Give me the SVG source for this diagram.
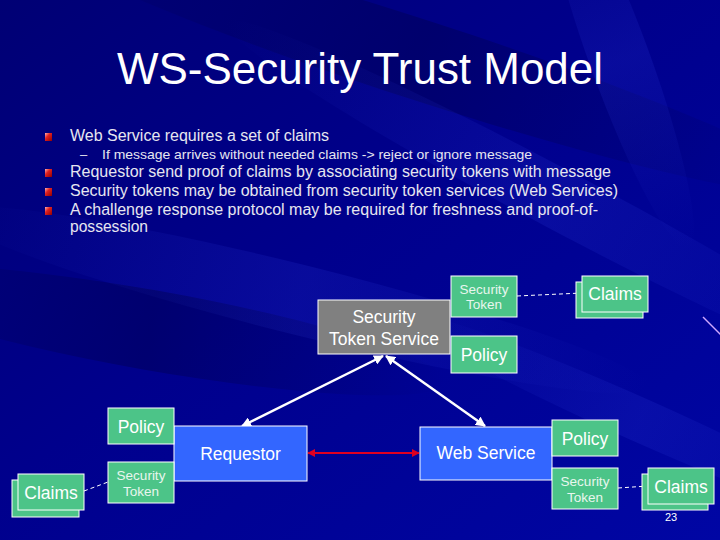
<svg xmlns="http://www.w3.org/2000/svg" width="720" height="540" viewBox="0 0 720 540">
<defs>
<linearGradient id="bg" x1="0" y1="0" x2="1" y2="1">
<stop offset="0" stop-color="#000074"/>
<stop offset="0.45" stop-color="#00008C"/>
<stop offset="1" stop-color="#0006A4"/>
</linearGradient>
<linearGradient id="streak" x1="0" y1="0" x2="1" y2="0">
<stop offset="0" stop-color="#2A38D8" stop-opacity="0"/>
<stop offset="0.5" stop-color="#2A38D8" stop-opacity="0.2"/>
<stop offset="1" stop-color="#2A38D8" stop-opacity="0"/>
</linearGradient>
<linearGradient id="dark" x1="0" y1="0" x2="1" y2="0">
<stop offset="0" stop-color="#000040" stop-opacity="0"/>
<stop offset="0.5" stop-color="#000040" stop-opacity="0.35"/>
<stop offset="1" stop-color="#000040" stop-opacity="0"/>
</linearGradient>
<linearGradient id="bul" x1="0" y1="0" x2="1" y2="1">
<stop offset="0" stop-color="#FFB0B0"/>
<stop offset="0.4" stop-color="#E02020"/>
<stop offset="1" stop-color="#900000"/>
</linearGradient>
<marker id="wa" viewBox="0 0 10 10" refX="9" refY="5" markerWidth="4" markerHeight="4" orient="auto-start-reverse" markerUnits="strokeWidth">
<path d="M0,0 L10,5 L0,10 z" fill="#FFFFFF"/>
</marker>
<marker id="ra" viewBox="0 0 10 10" refX="9" refY="5" markerWidth="4" markerHeight="4" orient="auto-start-reverse" markerUnits="strokeWidth">
<path d="M0,0 L10,5 L0,10 z" fill="#E00020"/>
</marker>
</defs>
<style>
.t{font-family:"Liberation Sans",Arial,sans-serif;fill:#FFFFFF}
.b{font-family:"Liberation Sans",Arial,sans-serif;fill:#E6E6F0;font-size:16px}
.s{font-family:"Liberation Sans",Arial,sans-serif;fill:#E6E6F0;font-size:13px}
.g{fill:#4CC488;stroke:#FFFFFF;stroke-width:1}
.bl{fill:#3366FF;stroke:#FFFFFF;stroke-width:1}
.gr{fill:#808080;stroke:#FFFFFF;stroke-width:1}
.lb{font-family:"Liberation Sans",Arial,sans-serif;fill:#FFFFFF;font-size:17.5px;text-anchor:middle}
.sm{font-family:"Liberation Sans",Arial,sans-serif;fill:#E8F6EE;font-size:13.5px;text-anchor:middle}
.dash{stroke:#FFFFFF;stroke-width:1;stroke-dasharray:4 3;fill:none}
.wl{stroke:#FFFFFF;stroke-width:2.5;fill:none;marker-start:url(#wa);marker-end:url(#wa)}
.rl{stroke:#E00020;stroke-width:2;fill:none;marker-start:url(#ra);marker-end:url(#ra)}
</style>
<rect width="720" height="540" fill="url(#bg)"/>
<g id="background-streaks">
<ellipse cx="420" cy="60" rx="420" ry="40" fill="url(#dark)" transform="rotate(18 420 60)"/>
<ellipse cx="560" cy="200" rx="380" ry="30" fill="url(#streak)" transform="rotate(28 560 200)"/>
<ellipse cx="300" cy="300" rx="360" ry="35" fill="url(#streak)" transform="rotate(14 300 300)"/>
<ellipse cx="150" cy="330" rx="300" ry="40" fill="url(#dark)" transform="rotate(10 150 330)"/>
<ellipse cx="640" cy="420" rx="260" ry="22" fill="url(#streak)" transform="rotate(24 640 420)"/>
<ellipse cx="620" cy="60" rx="200" ry="30" fill="url(#streak)" transform="rotate(70 620 60)"/>
</g>
<text class="t" x="360" y="84" font-size="44" text-anchor="middle" textLength="486" lengthAdjust="spacingAndGlyphs">WS-Security Trust Model</text>
<g id="bullets">
<rect x="45" y="133" width="7" height="8" fill="url(#bul)"/>
<rect x="45" y="169" width="7" height="8" fill="url(#bul)"/>
<rect x="45" y="188" width="7" height="8" fill="url(#bul)"/>
<rect x="45" y="207" width="7" height="8" fill="url(#bul)"/>
<text class="b" x="70" y="141" textLength="259" lengthAdjust="spacingAndGlyphs">Web Service requires a set of claims</text>
<text class="s" x="80" y="159">–</text>
<text class="s" x="102" y="159" textLength="430" lengthAdjust="spacingAndGlyphs">If message arrives without needed claims -&gt; reject or ignore message</text>
<text class="b" x="70" y="177" textLength="541" lengthAdjust="spacingAndGlyphs">Requestor send proof of claims by associating security tokens with message</text>
<text class="b" x="70" y="196" textLength="548" lengthAdjust="spacingAndGlyphs">Security tokens may be obtained from security token services (Web Services)</text>
<text class="b" x="70" y="215" textLength="528" lengthAdjust="spacingAndGlyphs">A challenge response protocol may be required for freshness and proof-of-</text>
<text class="b" x="70" y="232" textLength="78" lengthAdjust="spacingAndGlyphs">possession</text>
</g>
<g id="connectors">
<line class="dash" x1="517" y1="296" x2="582" y2="293"/>
<line class="dash" x1="84" y1="491" x2="108" y2="482"/>
<line class="dash" x1="618" y1="488" x2="648" y2="486"/>
<line class="wl" x1="383" y1="356" x2="242" y2="426"/>
<line class="wl" x1="386" y1="356" x2="485" y2="426"/>
<line class="rl" x1="308" y1="453" x2="419" y2="453"/>
</g>
<g id="sts">
<rect class="gr" x="318" y="300" width="132" height="54"/>
<text class="lb" x="384" y="323">Security</text>
<text class="lb" x="384" y="345">Token Service</text>
</g>
<g id="sts-token">
<rect class="g" x="451" y="276" width="66" height="41"/>
<text class="sm" x="484" y="294">Security</text>
<text class="sm" x="484" y="309">Token</text>
</g>
<g id="sts-policy">
<rect class="g" x="451" y="336" width="66" height="37"/>
<text class="lb" x="484" y="361">Policy</text>
</g>
<g id="sts-claims">
<rect class="g" x="576" y="282" width="67" height="36"/>
<rect class="g" x="582" y="276" width="66" height="36"/>
<text class="lb" x="615" y="300">Claims</text>
</g>
<g id="requestor">
<rect class="bl" x="174" y="426" width="133" height="55"/>
<text class="lb" x="240.5" y="460">Requestor</text>
</g>
<g id="req-policy">
<rect class="g" x="108" y="408" width="66" height="36"/>
<text class="lb" x="141" y="433">Policy</text>
</g>
<g id="req-token">
<rect class="g" x="108" y="462" width="66" height="41"/>
<text class="sm" x="141" y="480">Security</text>
<text class="sm" x="141" y="496">Token</text>
</g>
<g id="req-claims">
<rect class="g" x="12" y="480" width="67" height="37"/>
<rect class="g" x="18" y="474" width="66" height="36"/>
<text class="lb" x="51" y="499">Claims</text>
</g>
<g id="webservice">
<rect class="bl" x="420" y="427" width="132" height="53"/>
<text class="lb" x="486" y="459">Web Service</text>
</g>
<g id="ws-policy">
<rect class="g" x="552" y="420" width="66" height="36"/>
<text class="lb" x="585" y="445">Policy</text>
</g>
<g id="ws-token">
<rect class="g" x="552" y="468" width="66" height="41"/>
<text class="sm" x="585" y="486">Security</text>
<text class="sm" x="585" y="502">Token</text>
</g>
<g id="ws-claims">
<rect class="g" x="642" y="474" width="66" height="36"/>
<rect class="g" x="648" y="468" width="66" height="36"/>
<text class="lb" x="681" y="493">Claims</text>
</g>
<line x1="703" y1="317" x2="722" y2="336" stroke="#D0A8FF" stroke-width="1.5"/>
<text class="t" x="671" y="521" font-size="11" text-anchor="middle">23</text>
</svg>
